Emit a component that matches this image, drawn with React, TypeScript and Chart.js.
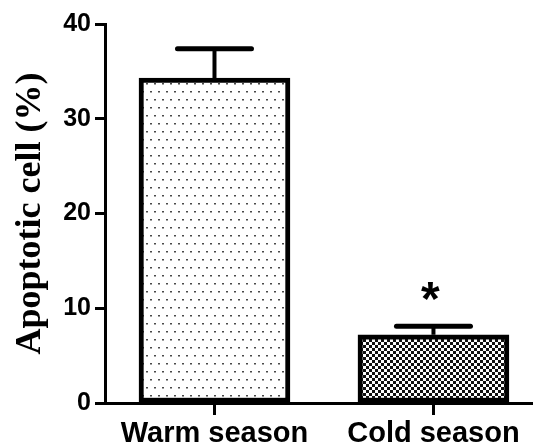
import React, { useEffect, useRef } from "react";
import { Chart, registerables } from "chart.js";

Chart.register(...registerables);

const categories = ["Warm season", "Cold season"];
const values = [34.3, 7.2];
const errors = [3.1, 0.9];
const significant = [false, true];
const yTicks = [0, 10, 20, 30, 40];
const yTitle = "Apoptotic cell (%)";

function makeDotPattern(): CanvasPattern | string {
  const c = document.createElement("canvas");
  c.width = 8;
  c.height = 16;
  const g = c.getContext("2d");
  if (!g) return "#fff";
  g.fillStyle = "#ffffff";
  g.fillRect(0, 0, 8, 16);
  g.fillStyle = "#4a4a4a";
  g.fillRect(2, 3, 2, 1.5);
  g.fillRect(6, 11, 2, 1.5);
  return g.createPattern(c, "repeat") || "#fff";
}

function makeCheckPattern(): CanvasPattern | string {
  const c = document.createElement("canvas");
  c.width = 6;
  c.height = 6;
  const g = c.getContext("2d");
  if (!g) return "#555";
  g.fillStyle = "#ffffff";
  g.fillRect(0, 0, 6, 6);
  g.fillStyle = "#111111";
  g.fillRect(0, 0, 3, 3);
  g.fillRect(3, 3, 3, 3);
  return g.createPattern(c, "repeat") || "#555";
}

const errorBarPlugin = {
  id: "errorBars",
  afterDatasetsDraw(chart: any) {
    const { ctx, scales } = chart;
    const xs = scales.x;
    const ys = scales.y;
    ctx.save();
    ctx.strokeStyle = "#000";
    values.forEach((v, i) => {
      const x = xs.getPixelForValue(i);
      const yb = ys.getPixelForValue(v);
      const yt = ys.getPixelForValue(v + errors[i]);
      ctx.lineCap = "butt";
      ctx.lineWidth = 4;
      ctx.beginPath();
      ctx.moveTo(x, yb);
      ctx.lineTo(x, yt);
      ctx.stroke();
      ctx.lineCap = "round";
      ctx.lineWidth = 5;
      ctx.beginPath();
      ctx.moveTo(x - 37, yt);
      ctx.lineTo(x + 37, yt);
      ctx.stroke();
      if (significant[i]) {
        ctx.fillStyle = "#000";
        ctx.font = "bold 48px 'Liberation Sans', Arial, sans-serif";
        ctx.textAlign = "center";
        ctx.textBaseline = "alphabetic";
        const yy = ys.getPixelForValue(v + errors[i] + 0.95);
        ctx.fillText("*", x - 3, yy - 2);
      }
    });
    ctx.restore();
  },
};

export default function App() {
  const ref = useRef<HTMLCanvasElement | null>(null);
  useEffect(() => {
    if (!ref.current) return;
    const patterns = [makeDotPattern(), makeCheckPattern()];
    const chart = new Chart(ref.current, {
      type: "bar",
      data: {
        datasets: [
          {
            data: categories.map((_, i) => ({ x: i, y: values[i] })) as any,
            backgroundColor: patterns as any,
            borderColor: "#000",
            borderWidth: 5,
            borderSkipped: false,
            barThickness: 151,
          },
        ],
      },
      options: {
        animation: false,
        responsive: false,
        events: [],
        layout: { padding: { left: 0, top: 24, right: 2, bottom: 0 } },
        plugins: { legend: { display: false }, tooltip: { enabled: false } },
        scales: {
          x: {
            type: "linear",
            min: -0.5,
            max: 1.45,
            offset: false,
            afterBuildTicks: (s: any) => {
              s.ticks = categories.map((_, i) => ({ value: i }));
            },
            afterFit: (s: any) => {
              s.height = 45;
            },
            ticks: {
              callback: (v: any) => categories[v as number] ?? "",
              color: "#000",
              font: { family: "'Liberation Sans', Arial, sans-serif", size: 29, weight: "bold" },
              padding: 2,
              maxRotation: 0,
              autoSkip: false,
            },
            grid: {
              offset: false,
              drawOnChartArea: false,
              drawTicks: true,
              tickLength: 12,
              tickWidth: 3,
              color: "#000",
            },
            border: { display: true, color: "#000", width: 3 },
          },
          y: {
            min: 0,
            max: 40,
            afterBuildTicks: (s: any) => {
              s.ticks = yTicks.map((v) => ({ value: v }));
            },
            afterFit: (s: any) => {
              s.width = 105;
            },
            ticks: {
              color: "#000",
              font: { family: "'Liberation Sans', Arial, sans-serif", size: 25, weight: "bold" },
              padding: 4,
            },
            grid: {
              drawOnChartArea: false,
              drawTicks: true,
              tickLength: 10,
              tickWidth: 3,
              color: "#000",
            },
            border: { display: true, color: "#000", width: 3 },
            title: {
              display: true,
              text: yTitle,
              color: "#000",
              font: { family: "'Liberation Serif', 'Times New Roman', serif", size: 36, weight: "bold", lineHeight: 1 },
              padding: { top: 13, bottom: 0 },
            },
          },
        },
      },
      plugins: [errorBarPlugin],
    });
    return () => chart.destroy();
  }, []);
  return (
    <div style={{ position: "absolute", left: 0, top: 0, width: 534, height: 448, background: "#fff" }}>
      <canvas ref={ref} width={534} height={448} />
    </div>
  );
}
